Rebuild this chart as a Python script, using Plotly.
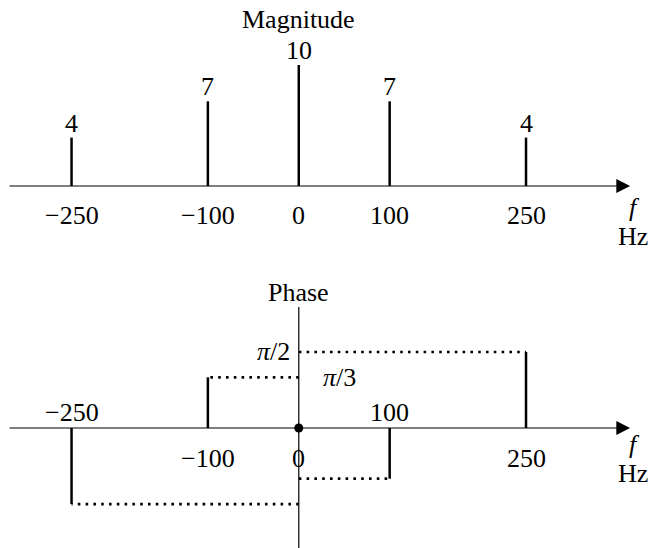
import math
import plotly.graph_objects as go

# Spectrum of the signal: frequencies (Hz), magnitudes and phases (rad)
freqs = [-250, -100, 0, 100, 250]
magnitudes = [4, 7, 10, 7, 4]
phases = [-math.pi / 2, math.pi / 3, 0, -math.pi / 3, math.pi / 2]

mag_labels = ["4", "7", "10", "7", "4"]
tick_labels = ["\u2212250", "\u2212100", "0", "100", "250"]
# which phase tick labels sit above the axis
phase_tick_above = [True, False, False, True, False]

FONT = "Liberation Serif"
FS = 26
X_RANGE = [-328.7, 387.5]
MAG_RANGE = [-7.273, 15.372]
PH_RANGE = [-2.479, 3.182]
AXIS_START = -319.9
AXIS_END = 364.5

fig = go.Figure()


def stems(xs, ys):
    sx, sy = [], []
    for x, y in zip(xs, ys):
        if y == 0:
            continue
        sx += [x, x, None]
        sy += [0, y, None]
    return sx, sy


# magnitude stems
mx, my = stems(freqs, magnitudes)
fig.add_trace(go.Scatter(x=mx, y=my, mode="lines", line=dict(color="black", width=2.5),
                         xaxis="x", yaxis="y", hoverinfo="skip"))

# phase stems
px, py = stems(freqs, phases)
fig.add_trace(go.Scatter(x=px, y=py, mode="lines", line=dict(color="black", width=2.5),
                         xaxis="x", yaxis="y2", hoverinfo="skip"))

# dotted guides from the phase axis to each phase level
gx, gy = [], []
for f, p in zip(freqs, phases):
    if p == 0:
        continue
    gx += [0, f, None]
    gy += [p, p, None]
fig.add_trace(go.Scatter(x=gx, y=gy, mode="lines",
                         line=dict(color="black", width=2.7, dash="2.6px,5.2px"),
                         xaxis="x", yaxis="y2", hoverinfo="skip"))

# vertical phase axis
fig.add_shape(type="line", xref="x", yref="y2", x0=0, x1=0, y0=2.5, y1=PH_RANGE[0],
              line=dict(color="black", width=1.2))

# origin dot
fig.add_trace(go.Scatter(x=[0], y=[0], mode="markers", marker=dict(color="black", size=9),
                         xaxis="x", yaxis="y2", hoverinfo="skip"))

ann = []
# horizontal frequency axes with arrowheads
for yref in ["y", "y2"]:
    ann.append(dict(x=AXIS_END, y=0, xref="x", yref=yref, ax=AXIS_START, ay=0,
                    axref="x", ayref=yref, text="", showarrow=True, arrowhead=2,
                    arrowsize=2.3, arrowwidth=1.2, arrowcolor="black", standoff=0,
                    startstandoff=0))
    ann.append(dict(x=AXIS_END, y=0, xref="x", yref=yref, text="<i>f</i>", showarrow=False,
                    xshift=4, yshift=-21 if yref == "y" else -16))
    ann.append(dict(x=AXIS_END, y=0, xref="x", yref=yref, text="Hz", showarrow=False,
                    xshift=3, yshift=-50 if yref == "y" else -45))

# titles
ann.append(dict(x=0, y=13.75, xref="x", yref="y", text="Magnitude", showarrow=False))
ann.append(dict(x=0, y=2.79, xref="x", yref="y2", text="Phase", showarrow=False))

# magnitude value labels and tick labels
for f, m, lab, tl in zip(freqs, magnitudes, mag_labels, tick_labels):
    ann.append(dict(x=f, y=m, xref="x", yref="y", text=lab, showarrow=False,
                    yanchor="bottom", yshift=-2))
    ann.append(dict(x=f, y=0, xref="x", yref="y", text=tl, showarrow=False, yshift=-29))

# phase tick labels
for f, tl, above in zip(freqs, tick_labels, phase_tick_above):
    ann.append(dict(x=f, y=0, xref="x", yref="y2", text=tl, showarrow=False,
                    yshift=16 if above else -30))

# phase level labels
ann.append(dict(x=0, y=phases[4], xref="x", yref="y2", text="<i>\u03c0</i>/2",
                showarrow=False, xanchor="right", xshift=-7))
ann.append(dict(x=0, y=phases[1], xref="x", yref="y2", text="<i>\u03c0</i>/3",
                showarrow=False, xanchor="left", xshift=22))

hidden = dict(visible=False, showgrid=False, zeroline=False, fixedrange=True)
fig.update_layout(
    width=651, height=548, autosize=False,
    margin=dict(l=0, r=0, t=0, b=0),
    paper_bgcolor="white", plot_bgcolor="white",
    showlegend=False,
    font=dict(family=FONT, size=FS, color="black"),
    xaxis=dict(range=X_RANGE, domain=[0, 1], **hidden),
    yaxis=dict(range=MAG_RANGE, domain=[0.5, 1], **hidden),
    yaxis2=dict(range=PH_RANGE, domain=[0, 0.5], **hidden),
    annotations=ann,
)

fig.write_html("out.html")
